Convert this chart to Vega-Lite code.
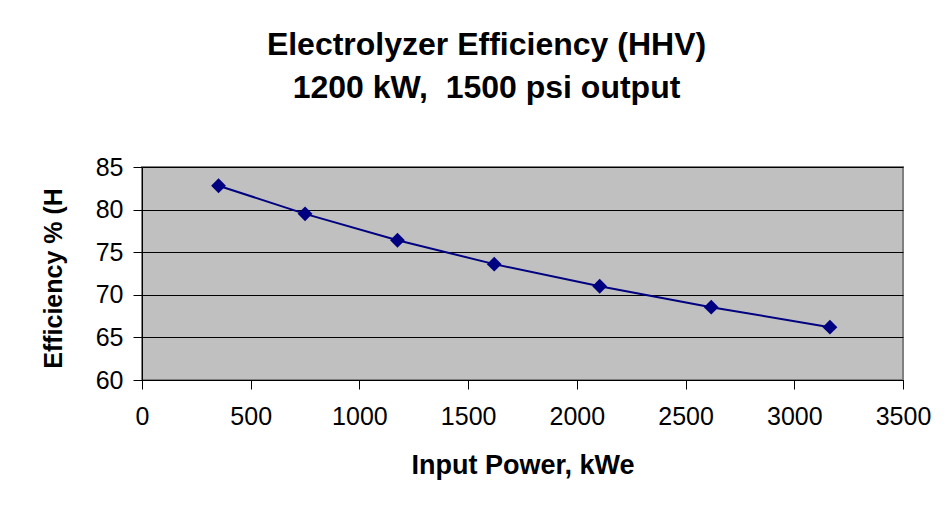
{
  "$schema": "https://vega.github.io/schema/vega-lite/v6.json",
  "width": 761,
  "height": 213,
  "autosize": {"type": "none"},
  "padding": {"left": 142, "top": 167, "right": 43, "bottom": 130},
  "background": "white",
  "title": {
    "text": ["Electrolyzer Efficiency (HHV)", "1200 kW,\u00a0 1500 psi output"],
    "font": "Liberation Sans",
    "fontSize": 32,
    "fontWeight": "bold",
    "color": "#000000",
    "anchor": "middle",
    "dx": -36,
    "baseline": "bottom",
    "lineHeight": 43,
    "offset": 18
  },
  "config": {
    "view": {"fill": "#C0C0C0", "stroke": "#808080", "strokeWidth": 2},
    "axis": {
      "labelFont": "Liberation Sans",
      "labelFontSize": 25,
      "labelColor": "#000000",
      "titleFont": "Liberation Sans",
      "titleFontWeight": "bold",
      "titleColor": "#000000",
      "domainColor": "#000000",
      "tickColor": "#000000",
      "tickSize": 9
    }
  },
  "data": {
    "values": [
      {"power": 352, "eff": 82.8},
      {"power": 750, "eff": 79.5},
      {"power": 1175, "eff": 76.4},
      {"power": 1620, "eff": 73.6},
      {"power": 2105, "eff": 71.0},
      {"power": 2618, "eff": 68.55},
      {"power": 3164, "eff": 66.2}
    ]
  },
  "encoding": {
    "x": {
      "field": "power",
      "type": "quantitative",
      "scale": {"domain": [0, 3500], "nice": false, "zero": false},
      "axis": {
        "title": "Input Power, kWe",
        "values": [0, 500, 1000, 1500, 2000, 2500, 3000, 3500],
        "format": "d",
        "grid": false,
        "labelPadding": 15,
        "labelFlush": false,
        "labelOverlap": false,
        "titleFontSize": 27,
        "titleBaseline": "alphabetic",
        "titleY": 93
      }
    },
    "y": {
      "field": "eff",
      "type": "quantitative",
      "scale": {"domain": [60, 85], "nice": false, "zero": false},
      "axis": {
        "title": "Efficiency % (H",
        "values": [60, 65, 70, 75, 80, 85],
        "format": "d",
        "grid": true,
        "gridColor": "#000000",
        "gridWidth": 1,
        "gridOpacity": 1,
        "labelPadding": 10,
        "labelFlush": false,
        "labelOverlap": false,
        "titleFontSize": 25,
        "titleAngle": 270,
        "titleAlign": "center",
        "titleBaseline": "alphabetic",
        "titleX": -81,
        "titleY": 111
      }
    }
  },
  "layer": [
    {"mark": {"type": "line", "color": "#000080", "strokeWidth": 2}},
    {"mark": {"type": "point", "shape": "diamond", "filled": true, "color": "#000080", "size": 220, "opacity": 1}}
  ]
}
